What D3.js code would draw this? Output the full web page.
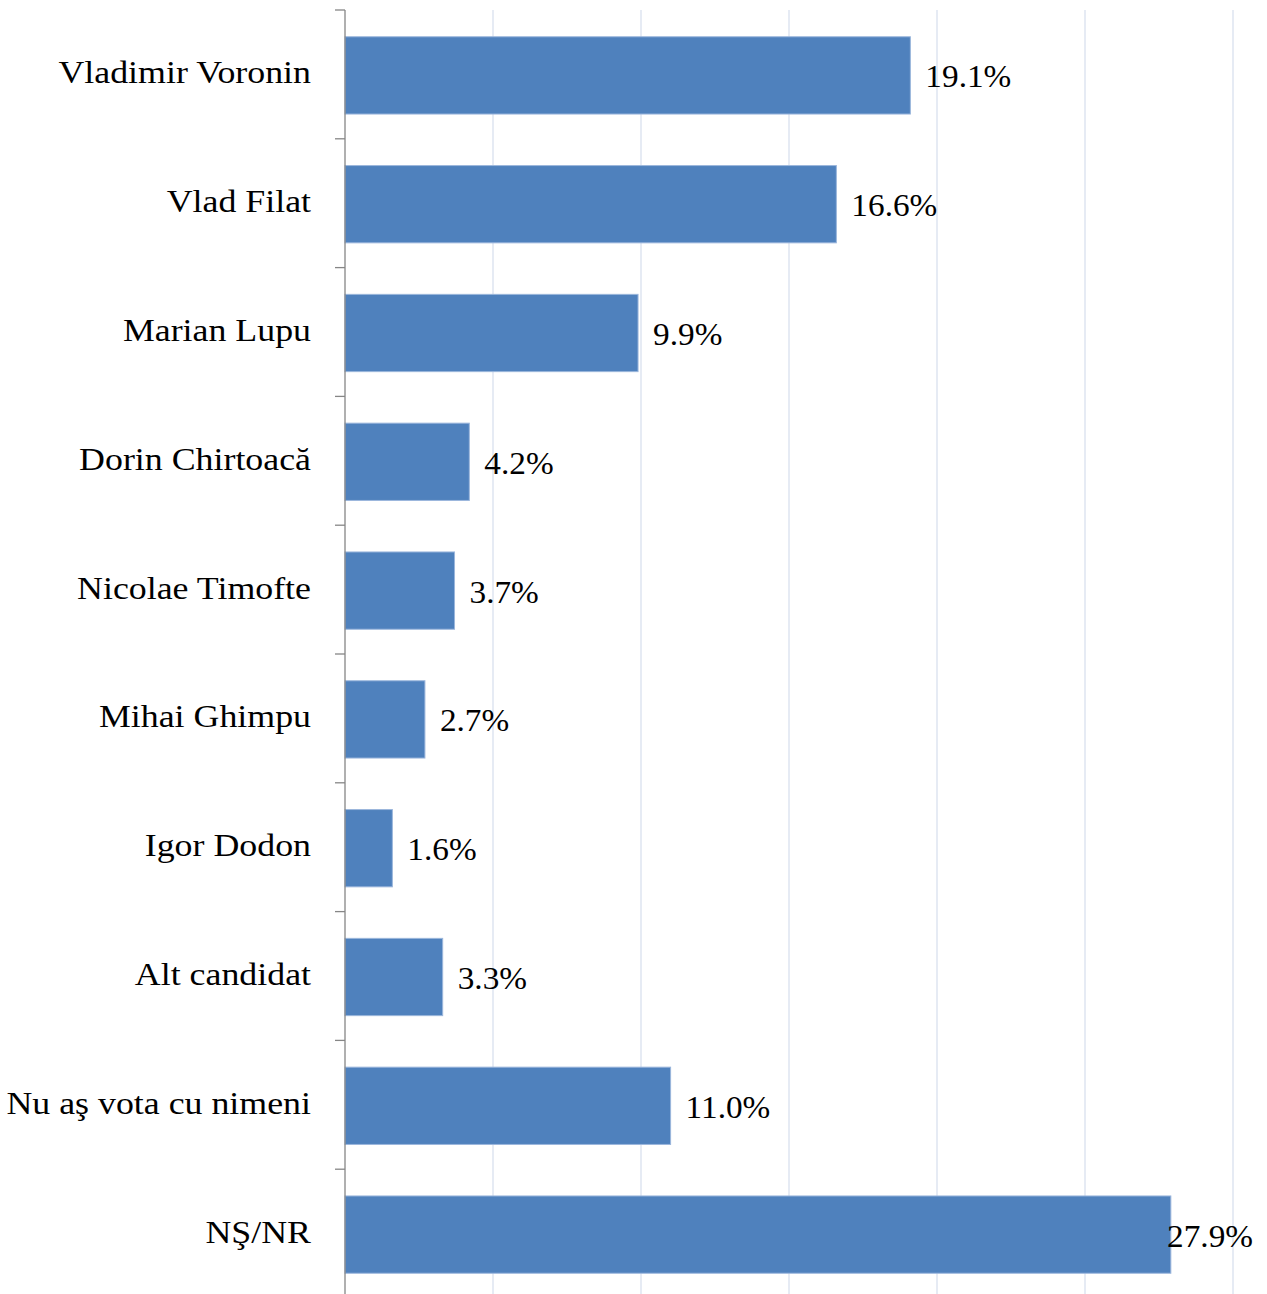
<!DOCTYPE html>
<html><head><meta charset="utf-8">
<script src="https://cdn.jsdelivr.net/npm/d3@7"></script>
<style>body{margin:0;background:#fff}svg{display:block}</style>
</head><body>
<script>
const categories = ["Vladimir Voronin","Vlad Filat","Marian Lupu","Dorin Chirtoacă","Nicolae Timofte","Mihai Ghimpu","Igor Dodon","Alt candidat","Nu aş vota cu nimeni","NŞ/NR"];
const values = [19.1,16.6,9.9,4.2,3.7,2.7,1.6,3.3,11.0,27.9];
const xTicks = [0,5,10,15,20,25,30];

const W=1267,H=1294;
const m={left:345,right:34,top:10};
const svg=d3.select("body").append("svg").attr("width",W).attr("height",H);
const x=d3.scaleLinear().domain([0,30]).range([m.left,W-m.right]);
const y=d3.scaleBand().domain(categories).range([m.top,m.top+1288]).paddingInner(0.4).paddingOuter(0.2);
const font="'Liberation Serif', serif";

svg.append("g").selectAll("line").data(xTicks.slice(1)).join("line")
  .attr("x1",d=>x(d)).attr("x2",d=>x(d)).attr("y1",m.top).attr("y2",H)
  .attr("stroke","#d9e0ee").attr("stroke-width",1.3);

svg.append("g").selectAll("rect").data(values).join("rect")
  .attr("x",x(0)).attr("y",(d,i)=>y(categories[i])+1)
  .attr("width",d=>x(d)-x(0)).attr("height",y.bandwidth())
  .attr("fill","#4f81bd").attr("stroke","#9bb6dc").attr("stroke-width",1);

// axis
const step=y.step();
const ax=svg.append("g");
ax.append("line").attr("x1",m.left).attr("x2",m.left).attr("y1",m.top).attr("y2",H).attr("stroke","#868686").attr("stroke-width",1.3);
ax.selectAll("line.t").data(d3.range(categories.length+1)).join("line").attr("class","t")
  .attr("x1",m.left-10).attr("x2",m.left).attr("y1",i=>m.top+i*step).attr("y2",i=>m.top+i*step)
  .attr("stroke","#868686").attr("stroke-width",1.3);

svg.append("g").selectAll("text").data(categories).join("text")
  .attr("x",311).attr("y",d=>y(d)+1+y.bandwidth()/2+8)
  .attr("text-anchor","end").attr("font-family",font).attr("font-size",32).attr("fill","#000")
  .text(d=>d)
  .each(function(){
    const w=this.getComputedTextLength();
    d3.select(this).attr("textLength",w*1.12).attr("lengthAdjust","spacingAndGlyphs");
  });

svg.append("g").selectAll("text").data(values).join("text")
  .attr("y",(d,i)=>y(categories[i])+1+y.bandwidth()/2+12)
  .attr("font-family",font).attr("font-size",32).attr("fill","#000")
  .text(d=>d.toFixed(1)+"%")
  .each(function(d){
    const w=this.getComputedTextLength()*1.04;
    d3.select(this).attr("textLength",w).attr("lengthAdjust","spacingAndGlyphs")
      .attr("x",Math.min(x(d)+15,W-14-w));
  });
</script>
</body></html>
